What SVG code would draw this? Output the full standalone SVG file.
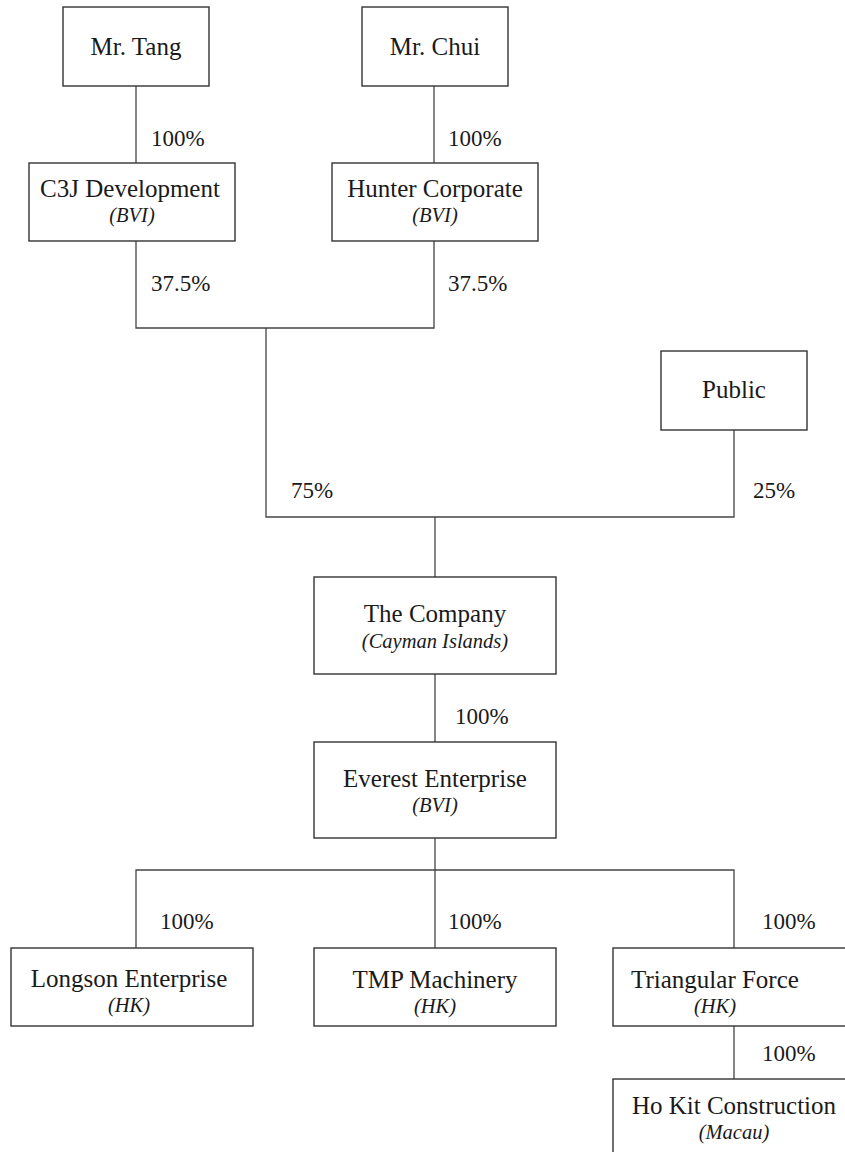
<svg xmlns="http://www.w3.org/2000/svg" width="845" height="1152" viewBox="0 0 845 1152">
<style>
rect{fill:#fff;stroke:#333;stroke-width:1.4}
.c line,.c path{stroke:#444;stroke-width:1.3;fill:none}
text{font-family:"Liberation Serif","Times New Roman",serif;fill:#1a1a1a}
.t{font-size:25px;text-anchor:middle}
.s{font-size:20.5px;font-style:italic;text-anchor:middle}
.p{font-size:23px}
</style>
<rect x="0" y="0" width="845" height="1152" style="stroke:none"/>
<g class="c" id="connectors">
<line x1="136" y1="86" x2="136" y2="163"/>
<line x1="434" y1="86" x2="434" y2="163"/>
<path d="M136 241V328H434V241"/>
<path d="M266 328V517H734V430"/>
<line x1="435" y1="517" x2="435" y2="577"/>
<line x1="435" y1="674" x2="435" y2="742"/>
<line x1="435" y1="838" x2="435" y2="870"/>
<path d="M136 948V870H734V948"/>
<line x1="435" y1="870" x2="435" y2="948"/>
<line x1="734" y1="1026" x2="734" y2="1079"/>
</g>
<g id="labels">
<text class="p" x="151" y="146">100%</text>
<text class="p" x="448" y="146">100%</text>
<text class="p" x="151" y="291">37.5%</text>
<text class="p" x="448" y="291">37.5%</text>
<text class="p" x="291" y="498">75%</text>
<text class="p" x="753" y="498">25%</text>
<text class="p" x="455" y="724">100%</text>
<text class="p" x="160" y="929">100%</text>
<text class="p" x="448" y="929">100%</text>
<text class="p" x="762" y="929">100%</text>
<text class="p" x="762" y="1061">100%</text>
</g>
<g id="mr-tang"><rect x="63" y="7" width="146" height="79"/><text class="t" x="136" y="55">Mr. Tang</text></g>
<g id="mr-chui"><rect x="362" y="7" width="146" height="79"/><text class="t" x="435" y="55">Mr. Chui</text></g>
<g id="c3j"><rect x="29" y="163" width="206" height="78"/><text class="t" x="130" y="197">C3J Development</text><text class="s" x="132" y="222">(BVI)</text></g>
<g id="hunter"><rect x="332" y="163" width="206" height="78"/><text class="t" x="435" y="197">Hunter Corporate</text><text class="s" x="435" y="222">(BVI)</text></g>
<g id="public"><rect x="661" y="351" width="146" height="79"/><text class="t" x="734" y="398">Public</text></g>
<g id="company"><rect x="314" y="577" width="242" height="97"/><text class="t" x="435" y="622">The Company</text><text class="s" x="435" y="648">(Cayman Islands)</text></g>
<g id="everest"><rect x="314" y="742" width="242" height="96"/><text class="t" x="435" y="787">Everest Enterprise</text><text class="s" x="435" y="812">(BVI)</text></g>
<g id="longson"><rect x="11" y="948" width="242" height="78"/><text class="t" x="129" y="987">Longson Enterprise</text><text class="s" x="129" y="1012">(HK)</text></g>
<g id="tmp"><rect x="314" y="948" width="242" height="78"/><text class="t" x="435" y="988">TMP Machinery</text><text class="s" x="435" y="1013">(HK)</text></g>
<g id="triangular"><rect x="613" y="948" width="242" height="78"/><text class="t" x="715" y="988">Triangular Force</text><text class="s" x="715" y="1013">(HK)</text></g>
<g id="hokit"><rect x="613" y="1079" width="242" height="90"/><text class="t" x="734" y="1114">Ho Kit Construction</text><text class="s" x="734" y="1139">(Macau)</text></g>
</svg>
